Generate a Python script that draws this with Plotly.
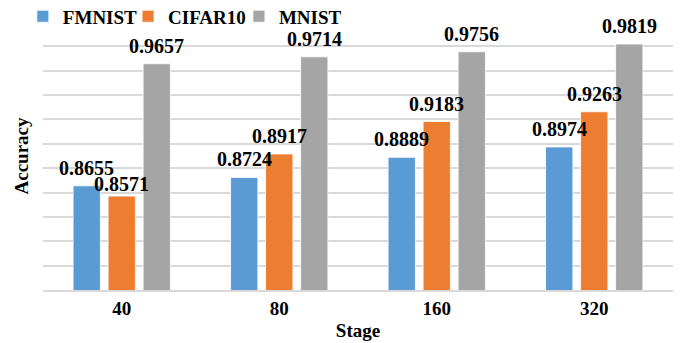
import plotly.graph_objects as go

stages = ["40", "80", "160", "320"]
series_names = ["FMNIST", "CIFAR10", "MNIST"]
fmnist = [0.8655, 0.8724, 0.8889, 0.8974]
cifar10 = [0.8571, 0.8917, 0.9183, 0.9263]
mnist = [0.9657, 0.9714, 0.9756, 0.9819]
colors = ["#5B9BD5", "#ED7D31", "#A5A5A5"]

FONT = "Times New Roman"
BARGAP = 0.333
BARGROUPGAP = 0.22
Y_RANGE = [0.78, 1.0]
HEIGHT, MT, MB = 343, 22, 53
LABEL_SHIFT = 18
MIN_LABEL_SEP = 16
legend_ids = ["legend", "legend2", "legend3"]
legend_x = [-0.032, 0.135, 0.311]

fig = go.Figure()
all_vals = [fmnist, cifar10, mnist]
for name, vals, col, lid in zip(series_names, all_vals, colors, legend_ids):
    fig.add_trace(go.Bar(
        x=stages, y=vals, name=f"<b>{name}</b>", legend=lid,
        marker=dict(color=col, line=dict(color="white", width=0.8)),
    ))

# value labels above bars; push a label down if it would collide with its left neighbour
px_per_unit = (HEIGHT - MT - MB) / (Y_RANGE[1] - Y_RANGE[0])
slot = (1 - BARGAP) / len(series_names)
annotations = []
for i in range(len(stages)):
    prev_pos = None
    for j, vals in enumerate(all_vals):
        v = vals[i]
        shift = LABEL_SHIFT
        pos = v * px_per_unit + shift
        if prev_pos is not None and abs(pos - prev_pos) < MIN_LABEL_SEP and pos < prev_pos:
            shift -= MIN_LABEL_SEP - (prev_pos - pos)
            pos = v * px_per_unit + shift
        prev_pos = pos
        annotations.append(dict(
            x=i + (j - (len(series_names) - 1) / 2) * slot, y=v,
            xref="x", yref="y",
            text=f"<b>{v:.4f}</b>", showarrow=False,
            yanchor="middle", yshift=shift,
            font=dict(family=FONT, size=20, color="black"),
        ))

legend_style = dict(orientation="h", xanchor="left", y=1.021, yanchor="middle",
                    font=dict(family=FONT, size=19, color="black"),
                    bgcolor="rgba(0,0,0,0)", itemwidth=30)
layout_legends = {lid: dict(legend_style, x=lx) for lid, lx in zip(legend_ids, legend_x)}

fig.update_layout(
    barmode="group", bargap=BARGAP, bargroupgap=BARGROUPGAP,
    width=682, height=HEIGHT,
    margin=dict(l=43, r=9, t=MT, b=MB, autoexpand=False),
    paper_bgcolor="white", plot_bgcolor="white",
    font=dict(family=FONT, size=19, color="black"),
    annotations=annotations,
    showlegend=True,
    **layout_legends,
)
fig.update_xaxes(
    type="category", title=dict(text="<b>Stage</b>", standoff=6,
                                font=dict(family=FONT, size=19)),
    showgrid=False, showline=True, linecolor="#D9D9D9", linewidth=1.5,
    tickfont=dict(family=FONT, size=19), ticks="",
    tickvals=stages, ticktext=[f"<b>{s}</b>" for s in stages],
)
fig.update_yaxes(
    range=Y_RANGE, dtick=0.02, tick0=Y_RANGE[0],
    showgrid=True, gridcolor="#D9D9D9", gridwidth=1.5,
    showticklabels=False, zeroline=False, ticks="",
    title=dict(text="<b>Accuracy</b>", standoff=8,
               font=dict(family=FONT, size=19)),
)

fig.write_html("out.html", config={"displayModeBar": False},
               post_script="document.body.style.margin='0';document.body.style.padding='0';")
